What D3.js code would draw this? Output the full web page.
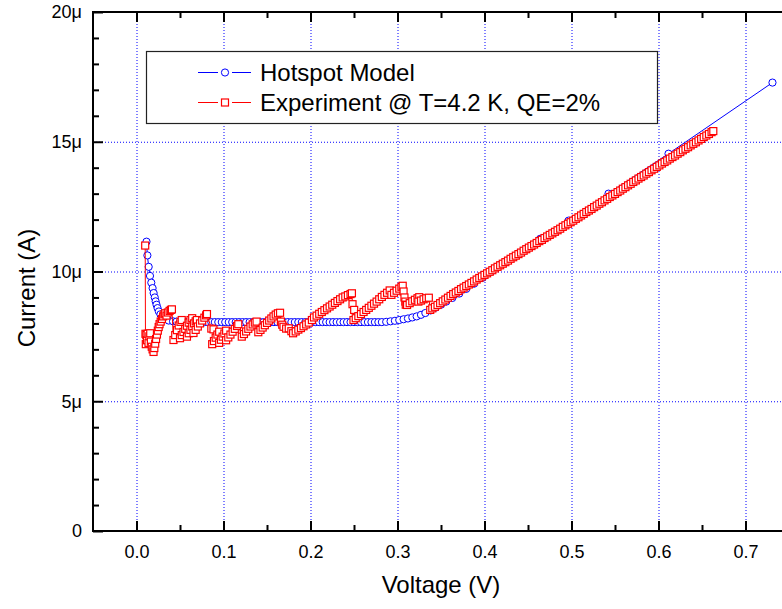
<!DOCTYPE html>
<html>
<head>
<meta charset="utf-8">
<script src="https://d3js.org/d3.v7.min.js"></script>
<style>
  body { margin: 0; background: #fff; }
  svg { display: block; font-family: "Liberation Sans", Arial, sans-serif; }
</style>
</head>
<body>
<div id="vis"></div>
<script>
// chart size
var width = 782;
var height = 609;

// tick values
var xMajor = [0.0, 0.1, 0.2, 0.3, 0.4, 0.5, 0.6, 0.7];
var xMinor = [0.05, 0.15, 0.25, 0.35, 0.45, 0.55, 0.65, 0.75];
var yMajor = [0, 5, 10, 15, 20];
var yMinor = [1, 2, 3, 4, 6, 7, 8, 9, 11, 12, 13, 14, 16, 17, 18, 19];

var seriesNames = ["Hotspot Model", "Experiment @ T=4.2 K, QE=2%"];

// hotspot model: [voltage (V), current (uA)]
var modelPoints = [
  [0.0115,11.15],[0.0125,10.62],[0.0140,10.18],[0.0155,9.83],[0.0170,9.57],[0.0185,9.36],
  [0.0197,9.17],[0.0210,9.00],[0.0220,8.85],[0.0230,8.72],[0.0242,8.59],[0.0257,8.46],
  [0.0275,8.35],[0.0300,8.25],[0.0330,8.17],[0.0370,8.11],[0.0420,8.08],
  [0.046,8.07],[0.050,8.06],[0.054,8.06],[0.058,8.05],[0.062,8.05],[0.066,8.05],[0.070,8.05],
  [0.074,8.05],[0.078,8.05],[0.082,8.05],[0.086,8.05],[0.090,8.05],[0.094,8.05],[0.098,8.05],
  [0.102,8.05],[0.106,8.05],[0.110,8.05],[0.114,8.05],[0.118,8.05],[0.122,8.05],[0.126,8.05],
  [0.130,8.05],[0.134,8.05],[0.138,8.05],[0.142,8.05],[0.146,8.05],[0.150,8.05],[0.154,8.05],
  [0.158,8.05],[0.162,8.05],[0.166,8.05],[0.170,8.05],[0.174,8.05],[0.178,8.05],[0.182,8.05],
  [0.186,8.05],[0.190,8.05],[0.194,8.05],[0.198,8.05],[0.202,8.05],[0.206,8.05],[0.210,8.05],
  [0.214,8.05],[0.218,8.05],[0.222,8.05],[0.226,8.05],[0.230,8.05],[0.234,8.05],[0.238,8.05],
  [0.242,8.05],[0.246,8.05],[0.250,8.05],[0.254,8.05],[0.258,8.05],[0.262,8.05],[0.266,8.05],
  [0.270,8.05],[0.274,8.05],[0.278,8.05],[0.282,8.05],
  [0.287,8.06],[0.292,8.08],[0.297,8.10],[0.302,8.13],[0.307,8.16],[0.312,8.19],[0.317,8.23],
  [0.322,8.27],[0.327,8.33],[0.332,8.40],[0.338,8.50],[0.344,8.61],[0.350,8.72],[0.356,8.84],
  [0.363,8.98],[0.371,9.15],[0.379,9.33],[0.388,9.53],[0.398,9.76],[0.408,10.01],[0.418,10.26],
  [0.439,10.70],[0.464,11.26],[0.4966,11.96],[0.5425,13.00],[0.6115,14.54],[0.731,17.28]
];

// experiment: [voltage (V), current (uA)]
var expPoints = [
  [0.0100,11.00],[0.0103,7.60],[0.0107,7.20],[0.0113,7.55],[0.0120,7.35],[0.0128,7.60],
  [0.0138,7.25],[0.0148,7.50],[0.0158,7.62],[0.0165,7.30],[0.0175,7.10],[0.0185,7.00],
  [0.0196,6.90],[0.0205,7.05],[0.0215,7.22],[0.0225,7.40],[0.0235,7.57],[0.0245,7.72],
  [0.0255,7.86],[0.0265,7.97],[0.0278,8.07],[0.0292,8.17],[0.0306,8.27],[0.0320,8.35],
  [0.0330,8.39],[0.0345,8.30],[0.0360,8.42],[0.0380,8.48],[0.0395,8.52],[0.0407,8.54],
  [0.0425,7.36],[0.0445,7.55],[0.0465,7.74],[0.0485,7.92],[0.0505,8.06],[0.0520,8.13],
  [0.0500,7.43],[0.0520,7.55],[0.0540,7.67],[0.0560,7.79],[0.0580,7.91],[0.0600,8.03],
  [0.0620,8.13],[0.0640,8.20],
  [0.0580,7.49],[0.0600,7.62],[0.0620,7.75],[0.0640,7.88],[0.0660,8.00],[0.0680,8.08],[0.0694,8.13],
  [0.0655,7.63],[0.0680,7.75],[0.0705,7.88],[0.0730,8.00],[0.0755,8.11],[0.0780,8.22],
  [0.0800,8.31],[0.0810,8.36],
  [0.0860,7.80],[0.0885,7.77],
  [0.0870,7.20],[0.0890,7.32],[0.0910,7.45],[0.0930,7.57],[0.0950,7.68],
  [0.0950,7.25],[0.0970,7.37],[0.0990,7.49],[0.1010,7.61],[0.1030,7.72],
  [0.1030,7.35],[0.1055,7.46],[0.1080,7.57],[0.1105,7.68],[0.1130,7.79],[0.1155,7.90],[0.1170,7.97],
  [0.1210,7.49],[0.1235,7.59],[0.1260,7.69],[0.1285,7.79],[0.1310,7.88],[0.1335,7.96],
  [0.1360,8.03],[0.1380,8.07],
  [0.1400,7.66],[0.1425,7.75],[0.1450,7.84],[0.1475,7.93],[0.1500,8.02],[0.1525,8.11],
  [0.1550,8.19],[0.1575,8.27],[0.1600,8.34],[0.1625,8.39],[0.1650,8.41],
  [0.1660,8.07],[0.1675,7.95],[0.1690,7.87],[0.1720,7.80],[0.1750,7.81],[0.1780,7.70],
  [0.1800,7.62],[0.1830,7.69],[0.1860,7.76],[0.1890,7.82],[0.1920,7.89],[0.1950,7.96],
  [0.1980,8.03],[0.2016,8.13],[0.2040,8.23],[0.2070,8.30],[0.2100,8.37],[0.2130,8.44],
  [0.2160,8.51],[0.2190,8.58],[0.2220,8.65],[0.2250,8.72],[0.2280,8.79],[0.2310,8.86],
  [0.2340,8.93],[0.2370,9.00],[0.2400,9.04],[0.2430,9.09],[0.2460,9.13],[0.2476,9.16],
  [0.2483,8.74],[0.2502,8.52],
  [0.2494,8.13],[0.2520,8.20],[0.2550,8.28],[0.2580,8.36],[0.2610,8.44],[0.2640,8.52],
  [0.2670,8.60],[0.2700,8.68],[0.2730,8.76],[0.2760,8.84],[0.2790,8.93],[0.2820,9.02],
  [0.2850,9.10],[0.2880,9.18],[0.2910,9.27],
  [0.2930,9.10],[0.2960,9.18],[0.2990,9.26],[0.3020,9.34],[0.3045,9.41],[0.3060,9.45],
  [0.3070,9.23],[0.3080,9.00],[0.3090,8.84],[0.3095,8.72],
  [0.3110,8.71],[0.3140,8.78],[0.3170,8.85],[0.3200,8.91],[0.3230,8.97],[0.3250,9.01],
  [0.3240,8.84],[0.3270,8.88],[0.3300,8.93],[0.3330,8.97],[0.3360,8.99],
  [0.3376,8.52],[0.340,8.58],[0.343,8.64],[0.346,8.71],[0.349,8.78],[0.352,8.85],[0.355,8.92],
  [0.358,8.99],[0.361,9.06],[0.364,9.13],[0.367,9.19],[0.370,9.25],[0.373,9.32],[0.376,9.38],
  [0.379,9.44],[0.382,9.50],[0.385,9.56],[0.388,9.62],[0.391,9.69],[0.394,9.75],[0.397,9.81],
  [0.400,9.87],[0.403,9.93],[0.406,9.99],[0.409,10.05],[0.412,10.12],[0.415,10.18],[0.418,10.24],
  [0.421,10.30],[0.424,10.36],[0.427,10.42],[0.430,10.49],[0.433,10.55],[0.436,10.61],
  [0.439,10.67],[0.442,10.73],[0.445,10.80],[0.448,10.86],[0.451,10.92],[0.454,10.98],
  [0.457,11.04],[0.460,11.10],[0.463,11.17],[0.466,11.22],[0.469,11.29],[0.472,11.35],
  [0.475,11.41],[0.478,11.47],[0.481,11.53],[0.484,11.59],[0.487,11.65],[0.490,11.72],
  [0.493,11.78],[0.496,11.84],[0.499,11.90],[0.502,11.96],[0.505,12.03],[0.508,12.09],
  [0.511,12.16],[0.514,12.22],[0.517,12.29],[0.520,12.35],[0.523,12.41],[0.526,12.48],
  [0.529,12.54],[0.532,12.61],[0.535,12.67],[0.538,12.74],[0.541,12.80],[0.544,12.87],
  [0.547,12.93],[0.550,12.99],[0.553,13.06],[0.556,13.12],[0.559,13.19],[0.562,13.25],
  [0.565,13.32],[0.568,13.38],[0.571,13.45],[0.574,13.51],[0.577,13.58],[0.580,13.64],
  [0.583,13.70],[0.586,13.77],[0.589,13.83],[0.592,13.90],[0.595,13.96],[0.598,14.03],
  [0.601,14.09],[0.604,14.16],[0.607,14.22],[0.610,14.28],[0.613,14.35],[0.616,14.41],
  [0.619,14.47],[0.622,14.54],[0.625,14.60],[0.628,14.67],[0.631,14.73],[0.634,14.79],
  [0.637,14.86],[0.640,14.92],[0.643,14.98],[0.646,15.05],[0.649,15.11],[0.652,15.18],
  [0.655,15.24],[0.658,15.30],[0.661,15.37],[0.663,15.41]
];

var font = '"Liberation Sans", Arial, sans-serif';

var svg = d3.select("#vis").append("svg")
  .attr("width", width)
  .attr("height", height);

// scales (plot runs past the right edge, like the original)
var x = d3.scaleLinear().domain([-0.05, 0.75]).range([93, 789]);
var y = d3.scaleLinear().domain([0, 20]).range([531, 12]);

// dotted grid
var grid = svg.append("g")
  .attr("stroke", "#0000ff")
  .attr("stroke-width", 1)
  .attr("stroke-dasharray", "1,2");

grid.selectAll(".vgrid")
  .data(xMajor)
  .join("line")
  .attr("x1", d => x(d) + 0.5).attr("x2", d => x(d) + 0.5)
  .attr("y1", y(20)).attr("y2", y(0));

grid.selectAll(".hgrid")
  .data(yMajor.filter(d => d > 0 && d < 20))
  .join("line")
  .attr("x1", x(-0.05)).attr("x2", x(0.75))
  .attr("y1", d => y(d) + 0.5).attr("y2", d => y(d) + 0.5);

// axes
function styleAxis(g) {
  g.select(".domain").remove();
  g.selectAll(".tick line").attr("stroke", "#000").attr("stroke-width", 2);
  g.selectAll(".tick text")
    .attr("fill", "#000")
    .style("font-family", font)
    .style("font-size", "18px");
}

svg.append("g")
  .attr("transform", "translate(0," + y(0) + ")")
  .call(d3.axisBottom(x).tickValues(xMajor).tickSize(-10).tickPadding(14)
    .tickFormat(d3.format(".1f")))
  .call(styleAxis);

svg.append("g")
  .attr("transform", "translate(0," + y(0) + ")")
  .call(d3.axisBottom(x).tickValues(xMinor).tickSize(-6).tickFormat(""))
  .call(styleAxis);

svg.append("g")
  .attr("transform", "translate(0," + y(20) + ")")
  .call(d3.axisTop(x).tickValues(xMajor).tickSize(-10).tickFormat(""))
  .call(styleAxis);

svg.append("g")
  .attr("transform", "translate(0," + y(20) + ")")
  .call(d3.axisTop(x).tickValues(xMinor).tickSize(-6).tickFormat(""))
  .call(styleAxis);

svg.append("g")
  .attr("transform", "translate(" + x(-0.05) + ",0)")
  .call(d3.axisLeft(y).tickValues(yMajor).tickSize(-10).tickPadding(11)
    .tickFormat(d => d === 0 ? "0" : d + "\u03bc"))
  .call(styleAxis);

svg.append("g")
  .attr("transform", "translate(" + x(-0.05) + ",0)")
  .call(d3.axisLeft(y).tickValues(yMinor).tickSize(-6).tickFormat(""))
  .call(styleAxis);

// frame lines
var frame = svg.append("g").attr("stroke", "#000").attr("stroke-width", 2);
frame.append("line").attr("x1", x(-0.05)).attr("x2", x(-0.05)).attr("y1", y(20) - 1).attr("y2", y(0) + 1);
frame.append("line").attr("x1", x(-0.05) - 1).attr("x2", x(0.75)).attr("y1", y(0)).attr("y2", y(0));
frame.append("line").attr("x1", x(-0.05) - 1).attr("x2", x(0.75)).attr("y1", y(20)).attr("y2", y(20));

// axis titles
svg.append("text")
  .attr("x", 441).attr("y", 593)
  .attr("text-anchor", "middle")
  .style("font-family", font).style("font-size", "24px")
  .text("Voltage (V)");

svg.append("text")
  .attr("transform", "translate(35,288) rotate(-90)")
  .attr("text-anchor", "middle")
  .style("font-family", font).style("font-size", "24px")
  .text("Current (A)");

// series
var line = d3.line().x(d => x(d[0])).y(d => y(d[1]));

svg.append("path")
  .datum(modelPoints)
  .attr("d", line)
  .attr("fill", "none")
  .attr("stroke", "#0000ff")
  .attr("stroke-width", 1);

svg.append("g").selectAll("circle")
  .data(modelPoints)
  .join("circle")
  .attr("cx", d => x(d[0]))
  .attr("cy", d => y(d[1]))
  .attr("r", 3.6)
  .attr("fill", "#fff")
  .attr("stroke", "#0000ff")
  .attr("stroke-width", 1);

svg.append("path")
  .datum(expPoints)
  .attr("d", line)
  .attr("fill", "none")
  .attr("stroke", "#ff0000")
  .attr("stroke-width", 1);

var sq = 7;
svg.append("g").selectAll("rect")
  .data(expPoints)
  .join("rect")
  .attr("x", d => x(d[0]) - sq / 2)
  .attr("y", d => y(d[1]) - sq / 2)
  .attr("width", sq)
  .attr("height", sq)
  .attr("fill", "#fff")
  .attr("stroke", "#ff0000")
  .attr("stroke-width", 1.2);

// legend
var legend = svg.append("g");
legend.append("rect")
  .attr("x", 146.5).attr("y", 51.5)
  .attr("width", 511).attr("height", 72)
  .attr("fill", "#fff")
  .attr("stroke", "#222")
  .attr("stroke-width", 1.2);

var rows = [
  {name: seriesNames[0], color: "#0000ff", shape: "circle", cy: 72.5},
  {name: seriesNames[1], color: "#ff0000", shape: "square", cy: 102.5}
];

rows.forEach(function(r) {
  // line with a gap around the marker
  legend.append("line")
    .attr("x1", 198).attr("x2", 218)
    .attr("y1", r.cy).attr("y2", r.cy)
    .attr("stroke", r.color).attr("stroke-width", 1);
  legend.append("line")
    .attr("x1", 232).attr("x2", 251)
    .attr("y1", r.cy).attr("y2", r.cy)
    .attr("stroke", r.color).attr("stroke-width", 1);
  if (r.shape === "circle") {
    legend.append("circle")
      .attr("cx", 225).attr("cy", r.cy).attr("r", 3.6)
      .attr("fill", "#fff").attr("stroke", r.color);
  } else {
    legend.append("rect")
      .attr("x", 225 - sq / 2).attr("y", r.cy - sq / 2)
      .attr("width", sq).attr("height", sq)
      .attr("fill", "#fff").attr("stroke", r.color).attr("stroke-width", 1.2);
  }
  legend.append("text")
    .attr("x", 260).attr("y", r.cy + 8.5)
    .style("font-family", font).style("font-size", "24px")
    .text(r.name);
});
</script>
</body>
</html>
